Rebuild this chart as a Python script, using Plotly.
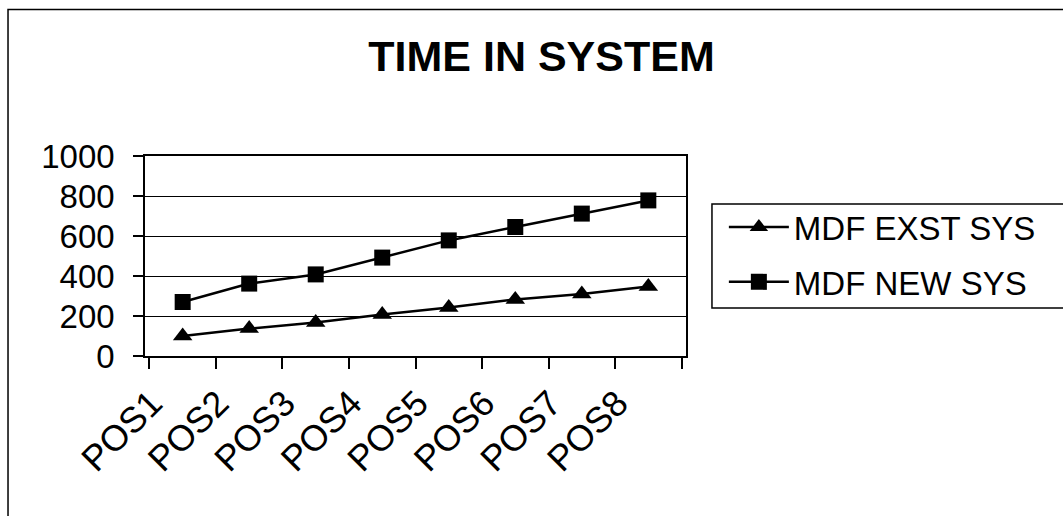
import plotly.graph_objects as go

# Positions along the line and time in system for each configuration
positions = ["POS1", "POS2", "POS3", "POS4", "POS5", "POS6", "POS7", "POS8"]
mdf_exst_sys = [100, 137, 167, 208, 242, 283, 310, 347]
mdf_new_sys = [270, 362, 408, 492, 578, 645, 712, 778]
y_ticks = [0, 200, 400, 600, 800, 1000]

FONT = "Liberation Sans, Arial, sans-serif"

fig = go.Figure()
fig.add_trace(go.Scatter(
    x=positions, y=mdf_exst_sys, name="MDF EXST SYS", mode="lines+markers",
    line=dict(color="black", width=2.5),
    marker=dict(symbol="triangle-up", size=17, color="black"),
    legendgroup="a",
))
fig.add_trace(go.Scatter(
    x=positions, y=mdf_new_sys, name="MDF NEW SYS", mode="lines+markers",
    line=dict(color="black", width=2.5),
    marker=dict(symbol="square", size=16, color="black"),
    legendgroup="b",
))

# outer chart frame
fig.add_shape(type="rect", xref="paper", yref="paper",
              x0=-0.2532, x1=1.72, y0=-0.85, y1=1.7325,
              line=dict(color="black", width=1.5), layer="below")
# legend frame
fig.add_shape(type="rect", xref="paper", yref="paper",
              x0=1.048, x1=1.72, y0=0.24, y1=0.76,
              line=dict(color="black", width=1.5))

fig.update_layout(
    width=1063, height=516,
    margin=dict(l=145, r=377, t=156, b=160),
    paper_bgcolor="white", plot_bgcolor="white",
    font=dict(family=FONT, color="black", size=32),
    title=dict(text="<b>TIME IN SYSTEM</b>", x=0.733, xref="paper", xanchor="center",
               y=1 - 55.5 / 516, yanchor="middle",
               font=dict(family=FONT, size=43, color="black")),
    showlegend=True,
    legend=dict(x=1.07, y=0.785, xanchor="left", yanchor="top",
                bgcolor="rgba(0,0,0,0)", borderwidth=0,
                font=dict(family=FONT, size=33, color="black"),
                tracegroupgap=9, itemwidth=60),
)
fig.update_xaxes(
    type="category", tickson="boundaries", ticks="outside", ticklen=11,
    tickwidth=1.5, tickcolor="black", tickangle=-45,
    ticklabelshift=-31, ticklabelstandoff=10,
    showline=True, linecolor="black", linewidth=1.5, mirror=True,
    showgrid=False, tickfont=dict(family=FONT, size=36, color="black"),
)
fig.update_yaxes(
    range=[0, 1000], tickvals=y_ticks, ticks="outside", ticklen=10,
    tickwidth=1.5, tickcolor="black",
    showline=True, linecolor="black", linewidth=1.5, mirror=True,
    showgrid=True, gridcolor="black", gridwidth=1.2, zeroline=False,
    ticklabelstandoff=12,
    tickfont=dict(family=FONT, size=33, color="black"),
)

fig.write_html("out.html")
